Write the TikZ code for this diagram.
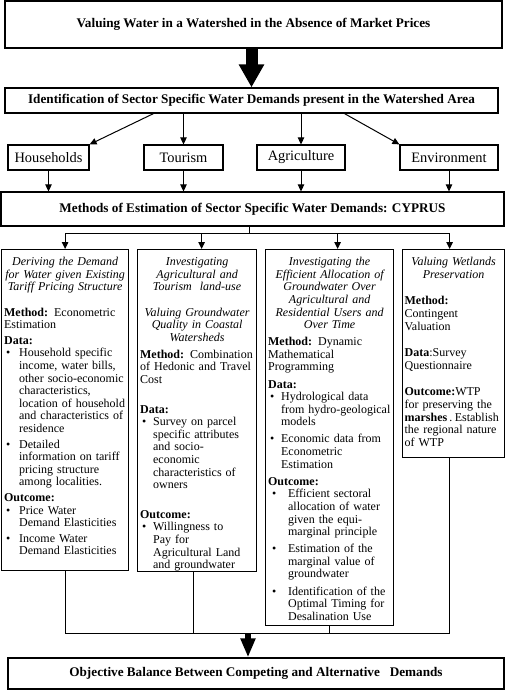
\documentclass[tikz,border=0pt]{standalone}
\usepackage{fontspec}
\setmainfont{Liberation Serif}
\usepackage{tikz}
\usetikzlibrary{arrows.meta}
\hyphenpenalty=10000
\exhyphenpenalty=10000
\newcommand{\bodysize}{\fontsize{12}{12.6}\selectfont}
\newcommand{\headsize}{\fontsize{13.2}{15}\selectfont}
\newcommand{\sectorsize}{\fontsize{14.4}{16}\selectfont}
\newcommand{\skipline}[1][12.6pt]{\par\vspace{#1}}
\newcommand{\smallgap}[1][3pt]{\par\vspace{#1}}
% bullet with hanging lines, lines split by \\
\newcommand{\bitem}[3][15pt]{\par{\let\\\newline\hangindent=#1\hangafter=1\noindent\makebox[#1][l]{\hspace{#2}\textbullet}#3\par}}

\begin{document}
\begin{tikzpicture}[
        x=1pt, y=-1pt,
        font=\bodysize,
        banner/.style={
            draw,
            line width=1.2pt,
            font=\headsize\bfseries,
            inner sep=0pt
        },
        sector/.style={
            draw,
            line width=1.2pt,
            font=\sectorsize,
            minimum height=25pt,
            inner sep=0pt
        },
        column/.style={
            draw,
            line width=1.2pt,
            anchor=north west,
            inner xsep=2.5pt,
            inner ysep=5pt,
            align=left,
            text height=11pt
        },
        arrow/.style={-{Triangle[width=6.5pt, length=7pt]}, line width=1pt},
        link/.style={line width=1pt},
        bigarrow/.style={-{Triangle[width=24pt, length=23pt]}, line width=12pt},
        midarrow/.style={-{Triangle[width=14pt, length=19pt]}, line width=6.5pt}
    ]
        \useasboundingbox (0,0) rectangle (506,691);

        \node[banner, minimum width=497pt, minimum height=47pt] (title) at (253.5,24.5) {Valuing Water in a Watershed in the Absence of Market Prices};
        \node[banner, minimum width=493pt, minimum height=25pt] (ident) at (251.5,100.5) {Identification of Sector Specific Water Demands present in the Watershed Area};

        \node[sector, minimum width=81pt] (households) at (48.5,157.5) {Households};
        \node[sector, minimum width=79pt] (tourism) at (183.5,157.5) {Tourism};
        \node[sector, minimum width=88pt] (agriculture) at (301,157.5) {Agriculture};
        \node[sector, minimum width=98pt] (environment) at (449,157.5) {Environment};

        \node[banner, minimum width=503pt, minimum height=34pt] (methods) at (252.5,209) {Methods of Estimation of Sector Specific Water Demands: CYPRUS};

        \node[column, text width=122pt, text depth=300pt] (derive) at (1,249) {%
            {\centering\itshape Deriving the Demand\\for Water given Existing\\Tariff Pricing Structure\par}
            \skipline
            \textbf{Method:} Econometric\\Estimation\smallgap
            \textbf{Data:}
            \bitem{2pt}{Household specific\\income, water bills,\\other socio-economic\\characteristics,\\location of household\\and characteristics of\\residence}
            \smallgap
            \bitem{2pt}{Detailed\\information on tariff\\pricing structure\\among localities.}
            \smallgap
            \textbf{Outcome:}
            \bitem{2pt}{Price Water\\Demand Elasticities}
            \smallgap
            \bitem{2pt}{Income Water\\Demand Elasticities}};

        \node[column, text width=114pt, text depth=301pt] (ground) at (137,249) {%
            {\centering\itshape Investigating\\Agricultural and\\Tourism\ \ land-use\par
            \vspace{12.6pt}
            Valuing Groundwater\\Quality in Coastal\\Watersheds\par}
            \smallgap[4.5pt]
            \textbf{Method:} Combination\\of Hedonic and Travel\\Cost
            \skipline[17pt]
            \textbf{Data:}
            \bitem[13pt]{2pt}{Survey on parcel\\specific attributes\\and socio-\\economic\\characteristics of\\owners}
            \skipline[17pt]
            \textbf{Outcome:}
            \bitem[13pt]{2pt}{Willingness to\\Pay for\\Agricultural Land\\and groundwater}};

        \node[column, text width=123pt, text depth=355pt] (alloc) at (265,249) {%
            {\centering\itshape Investigating the\\Efficient Allocation of\\Groundwater Over\\Agricultural and\\Residential Users and\\Over Time\par}
            \smallgap[4.5pt]
            \textbf{Method:} Dynamic\\Mathematical\\Programming\smallgap[4.5pt]
            \textbf{Data:}
            \bitem[13pt]{2pt}{Hydrological data\\from hydro-geological\\models}
            \smallgap[4.5pt]
            \bitem[13pt]{2pt}{Economic data from\\Econometric\\Estimation}
            \smallgap[4.5pt]
            \textbf{Outcome:}
            \bitem[20pt]{4pt}{Efficient sectoral\\allocation of water\\given the equi-\\marginal principle}
            \smallgap[4.5pt]
            \bitem[20pt]{4pt}{Estimation of the\\marginal value of\\groundwater}
            \smallgap[4.5pt]
            \bitem[20pt]{4pt}{Identification of the\\Optimal Timing for\\Desalination Use}};

        \node[column, inner xsep=2pt, text width=98pt, text depth=187pt] (wetland) at (402,249) {%
            {\centering\itshape Valuing Wetlands\\Preservation\par}
            \skipline[14pt]
            \textbf{Method:}\\Contingent\\Valuation
            \skipline[14pt]
            \textbf{Data}:Survey\\Questionnaire
            \skipline[14pt]
            \textbf{Outcome:}WTP\\for preserving the\\\mbox{\textbf{marshes}\hspace{2pt}.\hspace{2.5pt}Establish}\\the regional nature\\of WTP};

        \node[banner, minimum width=496pt, minimum height=31pt] (balance) at (256,673.5) {Objective Balance Between Competing and Alternative \ \ Demands};

        % top of the chart
        \draw[bigarrow] (ident.north |- title.south) -- (ident.north);
        \draw[arrow] ([xshift=-98pt]ident.south) -- (households.north east);
        \draw[arrow] (ident.south -| tourism.north) -- (tourism.north);
        \draw[arrow] (ident.south -| agriculture.north) -- (agriculture.north);
        \draw[arrow] ([xshift=93pt]ident.south) -- (environment.north west);

        \draw[arrow] (households.south) -- (households.south |- methods.north);
        \draw[arrow] (tourism.south) -- (tourism.south |- methods.north);
        \draw[arrow] (agriculture.south) -- (agriculture.south |- methods.north);
        \draw[arrow] (environment.south) -- (environment.south |- methods.north);

        % split into the four studies
        \coordinate (fork) at (249,233);
        \coordinate (gin) at ([xshift=4.5pt]ground.north);
        \coordinate (ain) at ([xshift=8pt]alloc.north);
        \coordinate (win) at ([xshift=-4pt]wetland.north);
        \draw[link] (methods.south -| fork) -- (fork);
        \draw[link] (fork -| derive.north) -- (fork -| win);
        \draw[arrow] (fork -| derive.north) -- (derive.north);
        \draw[arrow] (fork -| gin) -- (gin);
        \draw[arrow] (fork -| ain) -- (ain);
        \draw[arrow] (fork -| win) -- (win);

        % join towards the objective
        \coordinate (merge) at (248,633);
        \coordinate (gout) at ([xshift=-3.5pt]ground.south);
        \coordinate (wout) at ([xshift=-4pt]wetland.south);
        \draw[link] (derive.south) -- (derive.south |- merge) -- (wout |- merge) -- (wout);
        \draw[link] (gout) -- (gout |- merge);
        \draw[link] (alloc.south) -- (alloc.south |- merge);
        \draw[midarrow] (merge) -- (merge |- balance.north);
    \end{tikzpicture}
\end{document}
